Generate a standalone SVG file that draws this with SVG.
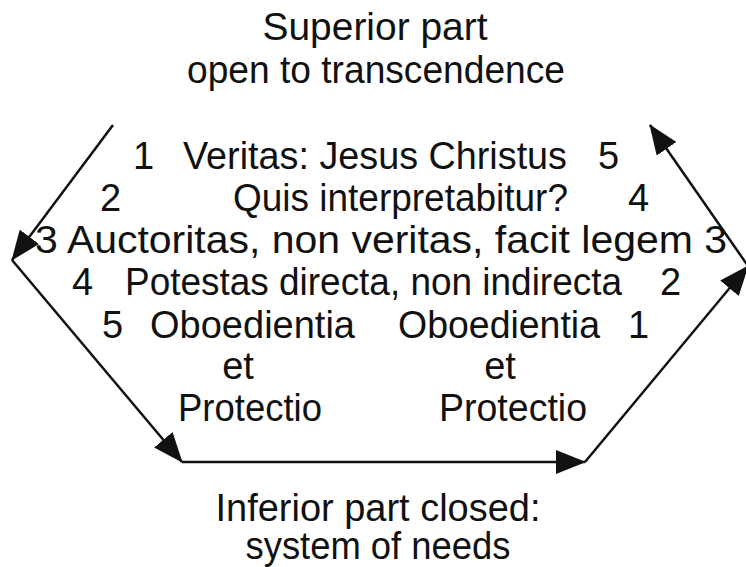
<svg xmlns="http://www.w3.org/2000/svg" width="746" height="567" viewBox="0 0 746 567">
<style>
text{font-family:"Liberation Sans",Arial,sans-serif;font-size:38px;fill:#111;}
.c{text-anchor:middle;}
.e{stroke:#111;stroke-width:2.5;fill:none;marker-end:url(#ah);}
</style>
<defs>
<marker id="ah" markerWidth="30" markerHeight="24" refX="29" refY="12" orient="auto" markerUnits="userSpaceOnUse"><path d="M0,0 L30,12 L0,24 z" fill="#111"/></marker>
</defs>
<rect width="746" height="567" fill="#fff"/>
<g id="connectors">
<line class="e" x1="113" y1="125" x2="12" y2="260"/>
<line class="e" x1="12" y1="260" x2="182" y2="462"/>
<line class="e" x1="182" y1="462" x2="585" y2="462"/>
<line class="e" x1="585" y1="462" x2="748" y2="266"/>
<line class="e" x1="748" y1="266" x2="650" y2="125"/>
</g>
<g id="superior">
<text class="c" x="375" y="40" textLength="225" lengthAdjust="spacingAndGlyphs">Superior part</text>
<text class="c" x="376" y="83" textLength="378" lengthAdjust="spacingAndGlyphs">open to transcendence</text>
</g>
<g id="line1">
<text x="133" y="169">1</text>
<text x="183" y="169" textLength="384" lengthAdjust="spacingAndGlyphs">Veritas: Jesus Christus</text>
<text x="598" y="169">5</text>
</g>
<g id="line2">
<text x="100" y="211">2</text>
<text x="233" y="211" textLength="335" lengthAdjust="spacingAndGlyphs">Quis interpretabitur?</text>
<text x="628" y="211">4</text>
</g>
<g id="line3">
<text x="35" y="253" textLength="692" lengthAdjust="spacingAndGlyphs">3 Auctoritas, non veritas, facit legem 3</text>
</g>
<g id="line4">
<text x="72" y="295">4</text>
<text x="125" y="295" textLength="497" lengthAdjust="spacingAndGlyphs">Potestas directa, non indirecta</text>
<text x="660" y="295">2</text>
</g>
<g id="line5">
<text x="102" y="338">5</text>
<text x="150" y="338" textLength="205" lengthAdjust="spacingAndGlyphs">Oboedientia</text>
<text x="398" y="338" textLength="202" lengthAdjust="spacingAndGlyphs">Oboedientia</text>
<text x="628" y="338">1</text>
</g>
<g id="left-protectio">
<text class="c" x="238" y="379">et</text>
<text class="c" x="250" y="421" textLength="144" lengthAdjust="spacingAndGlyphs">Protectio</text>
</g>
<g id="right-protectio">
<text class="c" x="500" y="379">et</text>
<text class="c" x="513" y="421" textLength="148" lengthAdjust="spacingAndGlyphs">Protectio</text>
</g>
<g id="inferior">
<text class="c" x="378" y="521" textLength="325" lengthAdjust="spacingAndGlyphs">Inferior part closed:</text>
<text class="c" x="378" y="559" textLength="265" lengthAdjust="spacingAndGlyphs">system of needs</text>
</g>
</svg>
